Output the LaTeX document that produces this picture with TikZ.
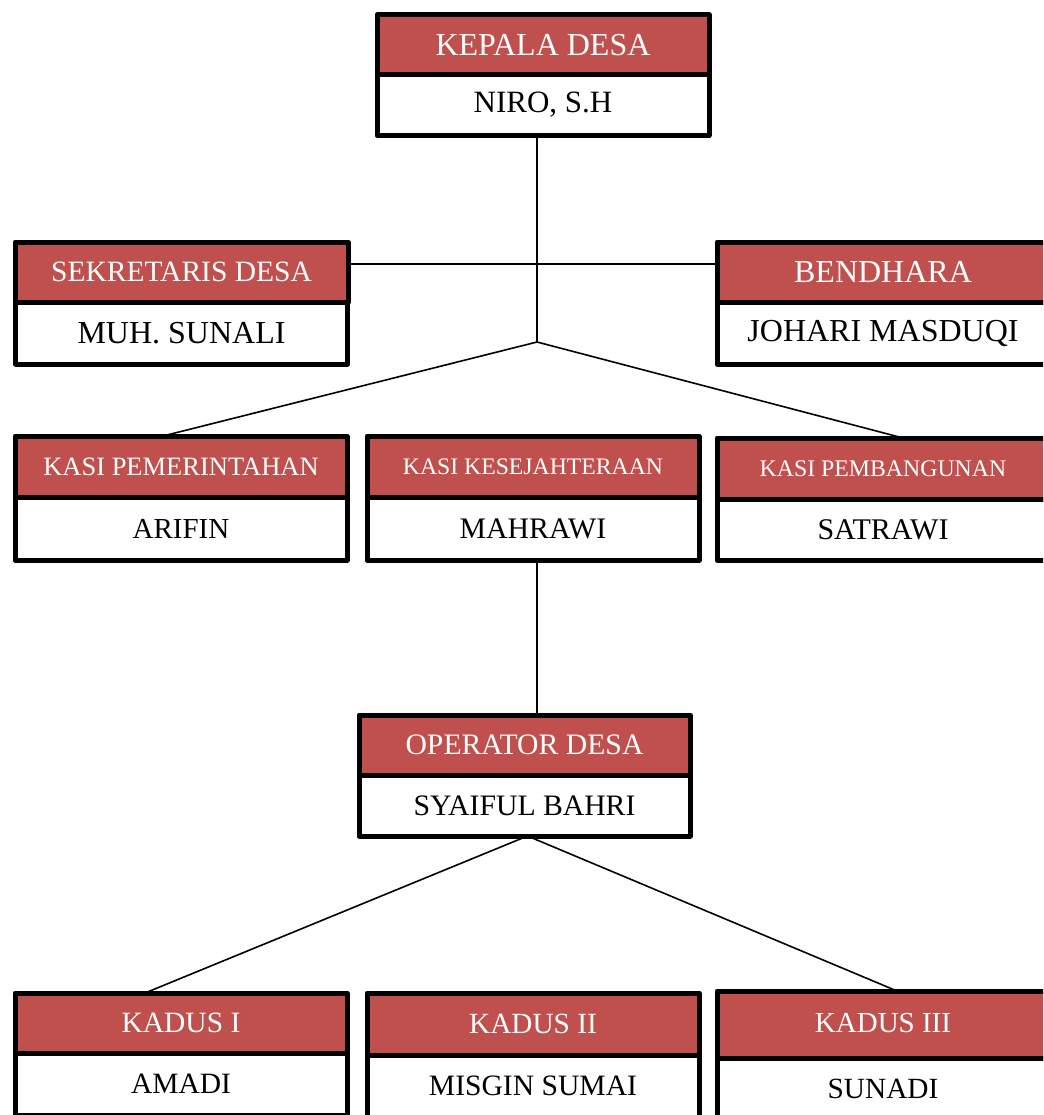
\documentclass[tikz,border=0pt]{standalone}
\usepackage{fontspec}
\setmainfont{Liberation Serif}
\definecolor{headred}{HTML}{C0504D}
\newcommand{\fsz}[1]{\fontsize{#1}{#1}\selectfont}

\tikzset{
  posthead/.style={draw, line width=5pt, line join=round, fill=headred, text=white,
    minimum width=332pt, minimum height=60pt, inner sep=0pt, outer sep=0pt},
  postname/.style={draw, line width=5pt, line join=round, fill=white, text=black,
    minimum width=332pt, minimum height=61pt, inner sep=0pt, outer sep=0pt},
  link/.style={line width=1.6pt}
}

\begin{document}
\begin{tikzpicture}[x=1pt,y=-1pt]

    % white page, cut at the frame
    \fill[white] (0,0) rectangle (1043,1115);
    \clip (0,0) rectangle (1043,1115);

    % kepala desa
    \node[postname, font=\fsz{31}] (kb) at (543,105) {\raisebox{-3pt}{NIRO, S.H}};
    \node[posthead, font=\fsz{32}] (kh) at (543,45) {KEPALA DESA};

    % sekretaris and bendhara
    \node[postname, font=\fsz{32}, minimum height=62pt] (sb) at (181.5,333) {MUH. SUNALI};
    \node[posthead, font=\fsz{29.5}, minimum width=333pt] (sh) at (181.5,272) {SEKRETARIS DESA};
    \node[postname, font=\fsz{32}, minimum height=62pt] (bb) at (883,333) {JOHARI MASDUQI};
    \node[posthead, font=\fsz{32}] (bh) at (883,272) {BENDHARA};

    % kasi
    \node[postname, font=\fsz{29}, minimum height=63pt] (kpb) at (181,528.5) {\raisebox{-2pt}{ARIFIN}};
    \node[posthead, font=\fsz{26.5}, minimum height=61pt] (kph) at (181,466.5) {KASI PEMERINTAHAN};
    \node[postname, font=\fsz{29.8}, minimum height=63pt] (kkb) at (533,528.5) {\raisebox{-2pt}{MAHRAWI}};
    \node[posthead, font=\fsz{23.7}, minimum height=61pt] (kkh) at (533,466.5) {KASI KESEJAHTERAAN};
    \node[postname, font=\fsz{30}] (kbb) at (883,529.5) {SATRAWI};
    \node[posthead, font=\fsz{23.8}, minimum height=61pt] (kbh) at (883,468.5) {KASI PEMBANGUNAN};

    % operator
    \node[postname, font=\fsz{29.7}, minimum width=331pt] (opb) at (524.5,805.5) {SYAIFUL BAHRI};
    \node[posthead, font=\fsz{29.7}, minimum width=331pt] (oph) at (524.5,745) {OPERATOR DESA};

    % kadus
    \node[postname, font=\fsz{29.5}, minimum height=62pt] (k1b) at (181,1084) {AMADI};
    \node[posthead, font=\fsz{29.5}] (k1h) at (181,1023) {KADUS I};
    \node[postname, font=\fsz{29.6}, minimum height=62pt] (k2b) at (533,1086) {MISGIN SUMAI};
    \node[posthead, font=\fsz{29.3}, minimum height=62pt] (k2h) at (533,1024) {KADUS II};
    \node[postname, font=\fsz{29.3}, minimum height=62pt] (k3b) at (883,1089) {SUNADI};
    \node[posthead, font=\fsz{29}, minimum height=67pt] (k3h) at (883,1024.5) {\raisebox{4pt}{KADUS III}};

    % connectors
    \coordinate (hub) at (537,342);
    \coordinate (hline) at (537,264);
    \draw[link] (hub |- kb.south) -- (hub);
    \draw[link] (sh.east |- hline) -- (bh.west |- hline);
    \draw[link] (hub) -- ([xshift=-18pt]kph.north);
    \draw[link] (hub) -- ([xshift=20pt]kbh.north);
    \draw[link] ([xshift=4pt]kkb.south) -- ([xshift=4pt]kkb.south |- oph.north);
    \draw[link] ([xshift=3pt]opb.south) -- ([xshift=-36pt]k1h.north);
    \draw[link] ([xshift=3pt]opb.south) -- ([xshift=14pt]k3h.north);

\end{tikzpicture}
\end{document}
